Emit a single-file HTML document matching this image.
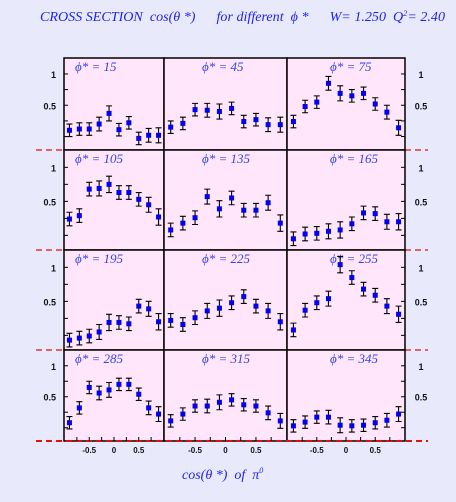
<!DOCTYPE html>
<html><head><meta charset="utf-8"><style>
html,body{margin:0;padding:0;background:#e8eafc;}
svg{display:block;}
text{white-space:pre;}
</style></head><body>
<svg id="chart" width="456" height="502" viewBox="0 0 456 502" xmlns="http://www.w3.org/2000/svg" xml:space="preserve">
<rect x="0" y="0" width="456" height="502" fill="#e8eafc"/>
<text x="40" y="21" font-family="Liberation Serif, serif" font-style="italic" font-size="13.5" fill="#2222ee" textLength="405" lengthAdjust="spacingAndGlyphs">CROSS SECTION  cos(θ *)      for different  ϕ *      W= 1.250  Q<tspan font-size="8" dy="-5">2</tspan><tspan dy="5">= 2.40</tspan></text>
<text x="182" y="479" font-family="Liberation Serif, serif" font-style="italic" font-size="14" fill="#2222ee">cos(θ *)  of  π<tspan font-size="8" dy="-6">0</tspan></text>
<g id="panels"></g>
</svg>
<script>
const phiLabels = [15,45,75,105,135,165,195,225,255,285,315,345];
const xBins = [-0.9,-0.7,-0.5,-0.3,-0.1,0.1,0.3,0.5,0.7,0.9];
const v15  = [0.10,0.12,0.12,0.20,0.37,0.11,0.22,-0.03,0.02,0.02];
const v45  = [0.15,0.21,0.43,0.42,0.40,0.45,0.24,0.27,0.19,0.19];
const v75  = [0.24,0.48,0.55,0.85,0.69,0.65,0.69,0.52,0.39,0.14];
const v105 = [0.24,0.29,0.68,0.69,0.75,0.63,0.63,0.53,0.45,0.27];
const v135 = [0.08,0.18,0.26,0.57,0.39,0.55,0.37,0.37,0.48,0.18];
const v165 = [-0.05,0.02,0.03,0.06,0.08,0.17,0.33,0.32,0.20,0.20];
const v195 = [-0.07,-0.04,-0.01,0.05,0.19,0.19,0.17,0.43,0.39,0.20];
const v225 = [0.22,0.16,0.26,0.36,0.40,0.48,0.57,0.43,0.36,0.20];
const v255 = [0.08,0.37,0.48,0.54,1.04,0.85,0.68,0.59,0.43,0.31];
const v285 = [0.08,0.32,0.65,0.56,0.61,0.70,0.70,0.54,0.32,0.22];
const v315 = [0.11,0.22,0.35,0.35,0.41,0.45,0.37,0.35,0.24,0.11];
const v345 = [0.03,0.09,0.17,0.17,0.04,0.03,0.04,0.08,0.12,0.22];
const seriesValues = [v15,v45,v75,v105,v135,v165,v195,v225,v255,v285,v315,v345];
const errValues = [0.10,0.10,0.10,0.11,0.12,0.10,0.10,0.10,0.11,0.12];
const yTickLabels = ["1","0.5"];
const yTickValues = [1,0.5];
const xTickLabels = ["-0.5","0","0.5"];
const xTickValues = [-0.5,0,0.5];

const NS="http://www.w3.org/2000/svg";
const g=document.getElementById('panels');
const colX=[64,164,287,405];
const rowY=[58,150,250,350,441];
const yMin=-0.215,yMax=1.255,xMin=-1.01,xMax=1.01;
function mk(tag,attrs){const e=document.createElementNS(NS,tag);for(const k in attrs)e.setAttribute(k,attrs[k]);return e;}
function xs(c,v){return colX[c]+(v-xMin)/(xMax-xMin)*(colX[c+1]-colX[c]);}
function ys(r,v){return rowY[r+1]-(v-yMin)/(yMax-yMin)*(rowY[r+1]-rowY[r]);}

for(let r=0;r<4;r++){
  for(let c=0;c<3;c++){
    const i=r*3+c;
    const p=mk('rect',{x:colX[c],y:rowY[r],width:colX[c+1]-colX[c],height:rowY[r+1]-rowY[r],fill:'#ffe6fa',stroke:'#000','stroke-width':1.5});
    
    
    g.appendChild(p);
    const lx=[11,38,43][c];
    const t=mk('text',{x:colX[c]+lx,y:rowY[r]+13,'font-family':'Liberation Serif, serif','font-style':'italic','font-size':13,fill:'#3344ee'});
    t.textContent='ϕ* = '+phiLabels[i];
    
    
    g.appendChild(t);
    const vals=seriesValues[i];
    for(let k=0;k<xBins.length;k++){
      const x=xs(c,xBins[k]),y=ys(r,vals[k]);
      const y1=ys(r,vals[k]+errValues[k]),y2=ys(r,vals[k]-errValues[k]);
      const eb=mk('path',{d:`M${x},${y1}V${y2}M${x-3},${y1}H${x+3}M${x-3},${y2}H${x+3}`,stroke:'#000','stroke-width':1.1,fill:'none'});
      
      
      g.appendChild(eb);
      const pt=mk('rect',{x:x-2.5,y:y-2.5,width:5,height:5,fill:'#0000ee'});
      
      
      g.appendChild(pt);
    }
  }
  for(let v=0;v<=1.01;v+=0.25){
    const y=ys(r,v);
    const tl=mk('line',{x1:64,x2:68,y1:y,y2:y,stroke:'#000','stroke-width':1});
    
    
    g.appendChild(tl);
    const tr=mk('line',{x1:401,x2:405,y1:y,y2:y,stroke:'#000','stroke-width':1});
    
    
    g.appendChild(tr);
  }
  for(let k=0;k<yTickLabels.length;k++){
    const y=ys(r,yTickValues[k])+4;
    const a=mk('text',{x:56,y:y,'text-anchor':'end','font-family':'Liberation Sans, sans-serif','font-weight':'bold','font-size':9,fill:'#111'});
    a.textContent=yTickLabels[k];
    
    
    g.appendChild(a);
    const b=mk('text',{x:421,y:y,'text-anchor':'middle','font-family':'Liberation Sans, sans-serif','font-weight':'bold','font-size':9,fill:'#111'});
    b.textContent=yTickLabels[k];
    
    
    g.appendChild(b);
  }
  const yy=rowY[r+1];
  const last=(r===3);
  const dl=mk('line',{x1:36,x2:last?428:64,y1:yy,y2:yy,stroke:'#dd1111','stroke-width':last?2:1.2,'stroke-dasharray':'6,4'});
  
  
  g.appendChild(dl);
  if(!last){
    const dr=mk('line',{x1:405,x2:428,y1:yy,y2:yy,stroke:'#dd1111','stroke-width':1.2,'stroke-dasharray':'6,4'});
    
    
    g.appendChild(dr);
  }
}
for(let c=0;c<3;c++){
  for(let k=0;k<xTickValues.length;k++){
    const x=xs(c,xTickValues[k]);
    const t=mk('text',{x:x,y:453,'text-anchor':'middle','font-family':'Liberation Sans, sans-serif','font-weight':'bold','font-size':8,fill:'#111'});
    t.textContent=xTickLabels[k];
    
    
    g.appendChild(t);
  }
  for(let v=-0.75;v<=0.76;v+=0.25){
    const x=xs(c,v);
    const tk=mk('line',{x1:x,x2:x,y1:441,y2:437,stroke:'#000','stroke-width':1});
    
    
    g.appendChild(tk);
  }
}
</script>
</body></html>
